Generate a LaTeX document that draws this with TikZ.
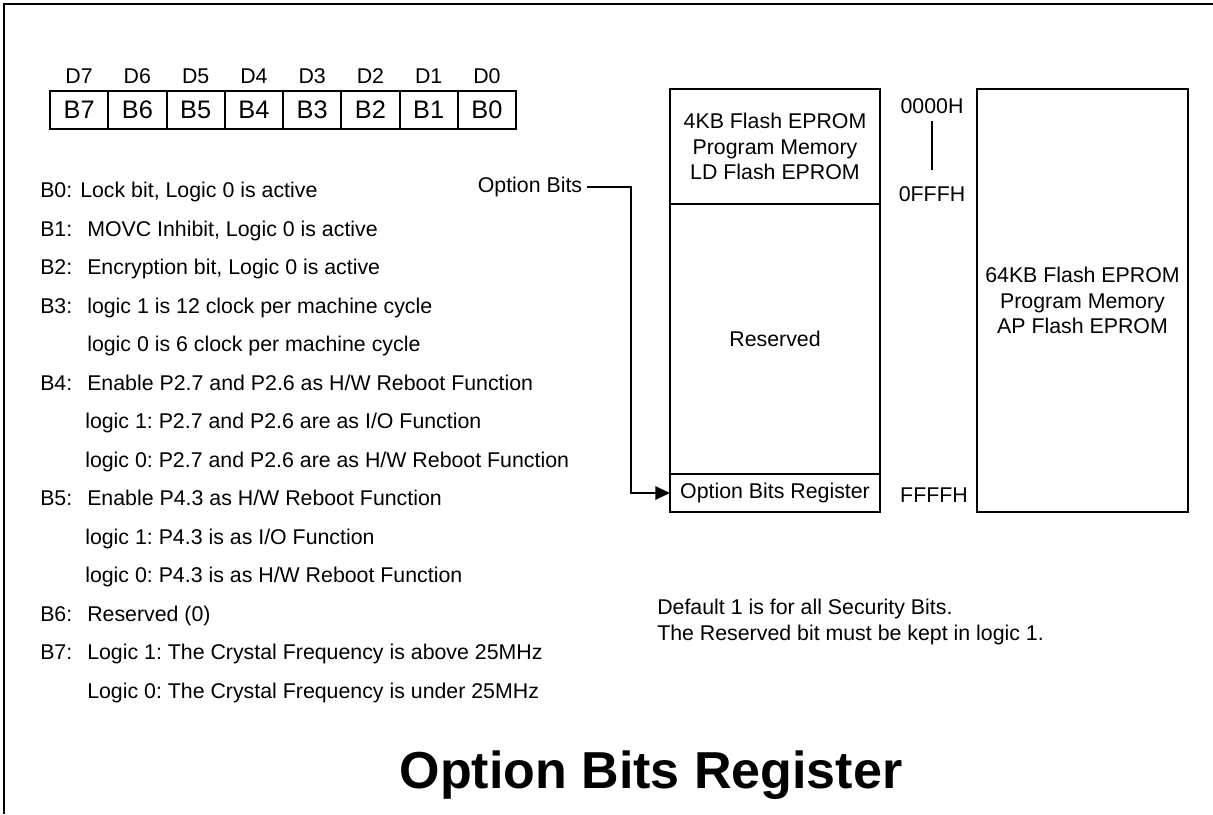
\documentclass[tikz,border=0pt]{standalone}
\usepackage{fontspec}
\setmainfont{Liberation Sans}
\usetikzlibrary{positioning,arrows.meta}

\newcommand{\listfont}{\fontsize{16pt}{19pt}\selectfont\frenchspacing}
\newcommand{\cellfont}{\fontsize{19pt}{22pt}\selectfont}
\newcommand{\titlefont}{\fontsize{39pt}{45pt}\selectfont\bfseries}
\newcommand{\bitname}[1]{\makebox[35.25pt][l]{#1}}

\begin{document}
\begin{tikzpicture}
    [x=0.75pt, y=-0.75pt,
     every label/.style = {font=\listfont},
     bit/.style = {draw, line width=1.5pt, outer sep=0pt, inner sep=0pt,
                   minimum width=43.7pt, minimum height=28.5pt, font=\cellfont},
     mem/.style = {draw, line width=1.5pt, outer sep=0pt, align=center,
                   minimum width=157.5pt, font=\listfont},
     listline/.style = {anchor=base west, inner sep=0pt, font=\listfont},
     addr/.style = {font=\listfont}]
    \useasboundingbox (0,0) rectangle (1213,814);
    \draw[line width=2pt] (4,814) -- (4,4) -- (1213,4);

    % bit cells
    \node[bit, label={[label distance=2pt]above:D7}] (b7) at (79.1,110) {B7};
    \node[bit, label={[label distance=2pt]above:D6}] (b6) [right=0pt of b7] {B6};
    \node[bit, label={[label distance=2pt]above:D5}] (b5) [right=0pt of b6] {B5};
    \node[bit, label={[label distance=2pt]above:D4}] (b4) [right=0pt of b5] {B4};
    \node[bit, label={[label distance=2pt]above:D3}] (b3) [right=0pt of b4] {B3};
    \node[bit, label={[label distance=2pt]above:D2}] (b2) [right=0pt of b3] {B2};
    \node[bit, label={[label distance=2pt]above:D1}] (b1) [right=0pt of b2] {B1};
    \node[bit, label={[label distance=2pt]above:D0}] (b0) [right=0pt of b1] {B0};

    % bit descriptions
    \node[listline] (l0) at (40,197.5) {\makebox[30pt][l]{B0:}Lock bit, Logic 0 is active};
    \node[listline] (l1) at (40,236) {\bitname{B1:}MOVC Inhibit, Logic 0 is active};
    \node[listline] (l2) at (40,274.5) {\bitname{B2:}Encryption bit, Logic 0 is active};
    \node[listline] (l3) at (40,313) {\bitname{B3:}logic 1 is 12 clock per machine cycle};
    \node[listline] (l3a) at (87,351.5) {logic 0 is 6 clock per machine cycle};
    \node[listline] (l4) at (40,390) {\bitname{B4:}Enable P2.7 and P2.6 as H/W Reboot Function};
    \node[listline] (l4a) at (85,428.5) {logic 1: P2.7 and P2.6 are as I/O Function};
    \node[listline] (l4b) at (85,467) {logic 0: P2.7 and P2.6 are as H/W Reboot Function};
    \node[listline] (l5) at (40,505.5) {\bitname{B5:}Enable P4.3 as H/W Reboot Function};
    \node[listline] (l5a) at (85,544) {logic 1: P4.3 is as I/O Function};
    \node[listline] (l5b) at (85,582.5) {logic 0: P4.3 is as H/W Reboot Function};
    \node[listline] (l6) at (40,621) {\bitname{B6:}Reserved (0)};
    \node[listline] (l7) at (40,659.5) {\bitname{B7:}Logic 1: The Crystal Frequency is above 25MHz};
    \node[listline] (l7a) at (87,698) {Logic 0: The Crystal Frequency is under 25MHz};

    % memory map
    \node[mem, minimum height=86.25pt] (ld) at (775,146.5) {4KB Flash EPROM\\Program Memory\\LD Flash EPROM};
    \node[mem, minimum height=202.5pt] (res) [below=0pt of ld] {Reserved};
    \node[mem, minimum height=28.5pt] (reg) [below=0pt of res] {Option Bits Register};
    \node[mem, minimum width=158.25pt, minimum height=317.25pt] (ap) at (1082.5,300.5)
        {64KB Flash EPROM\\Program Memory\\AP Flash EPROM};

    \node[addr] (a0) at (932,106) {0000H};
    \node[addr] (a1) at (932,194) {0FFFH};
    \node[addr] (a2) at (934,495) {FFFFH};
    \draw[line width=1.5pt, shorten <=2pt, shorten >=9pt] (a0) -- (a1);

    \node[addr] (ob) at (530,187) {Option Bits};
    \coordinate (bend) at (631,187);
    \draw[line width=1.5pt, -{Triangle[length=11pt,width=10pt]}] (ob) -- (bend) |- (reg);

    \node[listline, align=left] (note) at (657,640)
        {Default 1 is for all Security Bits.\\The Reserved bit must be kept in logic 1.};

    \node[anchor=base, font=\titlefont] (title) at (651,788) {Option Bits Register};
\end{tikzpicture}
\end{document}
